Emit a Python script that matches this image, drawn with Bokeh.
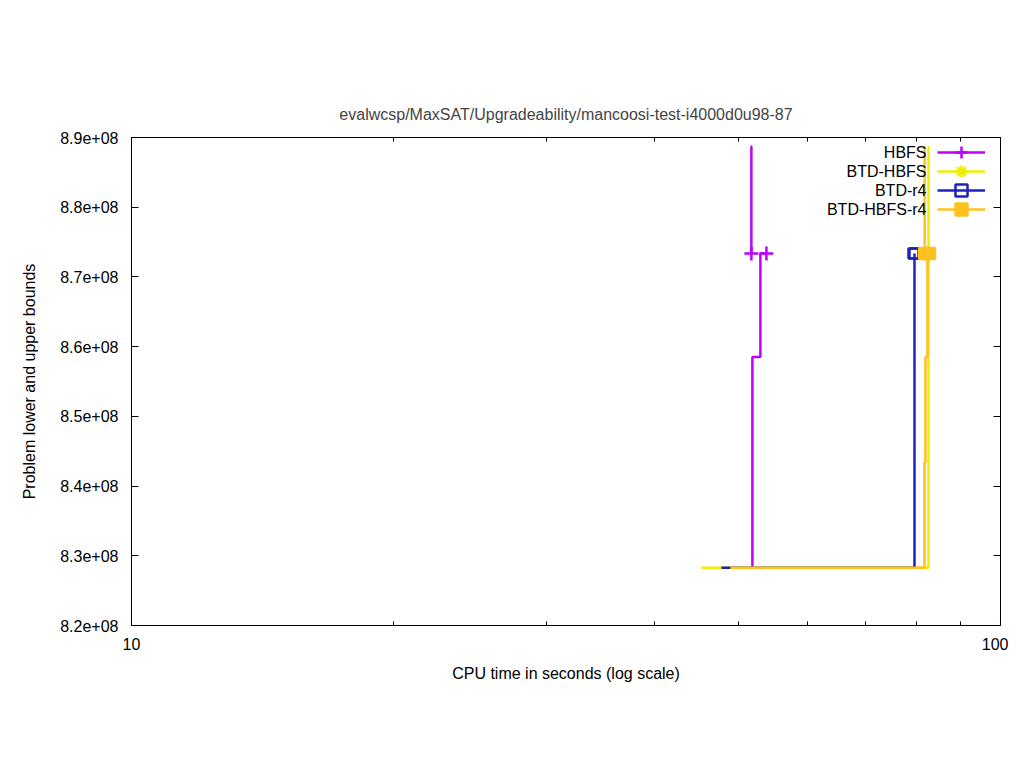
from bokeh.plotting import figure
from bokeh.models import (FixedTicker, LogAxis, LinearAxis, CustomJSTickFormatter, BasicTickFormatter,
                          Legend, LegendItem, Label, Range1d)
from bokeh.core.properties import value
from bokeh.embed import file_html
from bokeh.resources import INLINE

FONT = "Liberation Sans"
FS = "16px"
TITLE = "evalwcsp/MaxSAT/Upgradeability/mancoosi-test-i4000d0u98-87"

# ---- data (CPU time in seconds, bound value) ----
solvers = ["HBFS", "BTD-HBFS", "BTD-r4", "BTD-HBFS-r4"]
colors = ["#c000ff", "#eeee00", "#2020c0", "#ffc020"]

hbfs_lower_t = [51.7, 51.82, 52.93, 53.78]
hbfs_lower_v = [8.283e8, 8.585e8, 8.7336e8, 8.7336e8]
hbfs_upper_t = [51.6, 51.68]
hbfs_upper_v = [8.887e8, 8.7336e8]

btdhbfs_lower_t = [45.28, 82.63]
btdhbfs_lower_v = [8.283e8, 8.7336e8]
btdhbfs_upper_t = [82.55, 82.63]
btdhbfs_upper_v = [8.887e8, 8.7336e8]

btdr4_lower_t = [47.73, 79.62]
btdr4_lower_v = [8.283e8, 8.7336e8]
btdr4_upper_t = [79.41]
btdr4_upper_v = [8.7336e8]

btdhbfsr4_lower_t = [48.88, 81.76, 81.97, 82.41, 82.85]
btdhbfsr4_lower_v = [8.283e8, 8.434e8, 8.585e8, 8.7336e8, 8.7336e8]
btdhbfsr4_upper_t = [81.75, 81.8]
btdhbfsr4_upper_v = [8.887e8, 8.7336e8]

y_ticks = [8.2e8, 8.3e8, 8.4e8, 8.5e8, 8.6e8, 8.7e8, 8.8e8, 8.9e8]
x_ticks = [10, 100]
x_minor = [20, 30, 40, 50, 60, 70, 80, 90]

series = [
    (hbfs_lower_t, hbfs_lower_v, hbfs_upper_t, hbfs_upper_v),
    (btdhbfs_lower_t, btdhbfs_lower_v, btdhbfs_upper_t, btdhbfs_upper_v),
    (btdr4_lower_t, btdr4_lower_v, btdr4_upper_t, btdr4_upper_v),
    (btdhbfsr4_lower_t, btdhbfsr4_lower_v, btdhbfsr4_upper_t, btdhbfsr4_upper_v),
]
# each point type may be composed of several bokeh markers
markers = [
    [dict(marker="cross", size=14, fill_alpha=0)],
    [dict(marker="cross", size=14, fill_alpha=0), dict(marker="x", size=11, fill_alpha=0)],
    [dict(marker="square", size=10, fill_alpha=0)],
    [dict(marker="square", size=11, fill_alpha=1)],
]

p = figure(width=1008, height=752, x_axis_type="log",
           x_range=Range1d(10, 100), y_range=Range1d(8.2e8, 8.9e8),
           output_backend="svg", toolbar_location=None,
           min_border_left=131, min_border_right=8, min_border_top=137, min_border_bottom=127)

p.title.text = TITLE
p.title.align = "center"
p.title.text_font = FONT
p.title.text_font_size = FS
p.title.text_font_style = "normal"
p.title.standoff = 29

p.grid.visible = False
p.outline_line_color = "black"
p.outline_line_width = 1
p.background_fill_color = "white"
p.border_fill_color = "white"

def style_axis(ax, labels=True):
    ax.axis_line_color = "black"
    ax.major_tick_in = 7
    ax.major_tick_out = 0
    ax.minor_tick_in = 4
    ax.minor_tick_out = 0
    ax.major_label_text_font = FONT
    ax.major_label_text_font_size = FS
    ax.major_label_text_color = "black"
    ax.axis_label_text_font = FONT
    ax.axis_label_text_font_size = FS
    ax.axis_label_text_font_style = "normal"
    ax.axis_label_text_color = "black"
    if not labels:
        ax.formatter = CustomJSTickFormatter(code="return '';")

xa = p.xaxis[0]
xa.ticker = FixedTicker(ticks=x_ticks, minor_ticks=x_minor)
xa.formatter = BasicTickFormatter()
xa.axis_label = "CPU time in seconds (log scale)"
style_axis(xa)
xa.major_label_standoff = 12
xa.axis_label_standoff = 12

yfmt = CustomJSTickFormatter(code="""
const e = Math.floor(Math.log10(Math.abs(tick)) + 1e-9);
const m = tick / Math.pow(10, e);
return m.toFixed(1) + 'e+' + String(e).padStart(2, '0');
""")
ya = p.yaxis[0]
ya.ticker = FixedTicker(ticks=y_ticks, minor_ticks=[])
ya.formatter = yfmt
ya.axis_label = "Problem lower and upper bounds"
style_axis(ya)
ya.major_label_standoff = 13
ya.axis_label_standoff = 19

top = LogAxis(ticker=FixedTicker(ticks=x_ticks, minor_ticks=x_minor))
style_axis(top, labels=False)
top.major_label_standoff = 0
p.add_layout(top, "above")
right = LinearAxis(ticker=FixedTicker(ticks=y_ticks, minor_ticks=[]))
style_axis(right, labels=False)
right.major_label_standoff = 0
p.add_layout(right, "right")

for i, (name, col, (lt, lv, ut, uv), mks) in enumerate(zip(solvers, colors, series, markers)):
    r1 = p.step(lt, lv, mode="after", line_color=col, line_width=2.5)
    r2 = p.step(ut, uv, mode="after", line_color=col, line_width=2.5)
    legend_rs = [r1]
    for mk in mks:
        m1 = p.scatter([lt[-1]], [lv[-1]], marker=mk["marker"], size=mk["size"],
                       line_color=col, line_width=2.5, fill_color=col, fill_alpha=mk["fill_alpha"])
        m2 = p.scatter([ut[-1]], [uv[-1]], marker=mk["marker"], size=mk["size"],
                       line_color=col, line_width=2.5, fill_color=col, fill_alpha=mk["fill_alpha"])
        legend_rs.append(m1)
    # key sample (line + point) on the right, label text right-aligned on its left (gnuplot style)
    lg = Legend(items=[LegendItem(label=value(""), renderers=legend_rs)],
                location=(806, 458 - 19 * i), orientation="vertical",
                glyph_width=48, glyph_height=30, label_width=0, label_height=19,
                label_standoff=0, spacing=0, padding=0, margin=0,
                border_line_color=None, background_fill_alpha=0,
                label_text_font_size="1px")
    p.add_layout(lg)
    p.add_layout(Label(x=795, y=473 - 19 * i, x_units="screen", y_units="screen",
                       text=name, text_align="right", text_baseline="middle",
                       text_font=FONT, text_font_size=FS, text_color="black"))

open("out.html", "w").write(file_html(p, INLINE))
